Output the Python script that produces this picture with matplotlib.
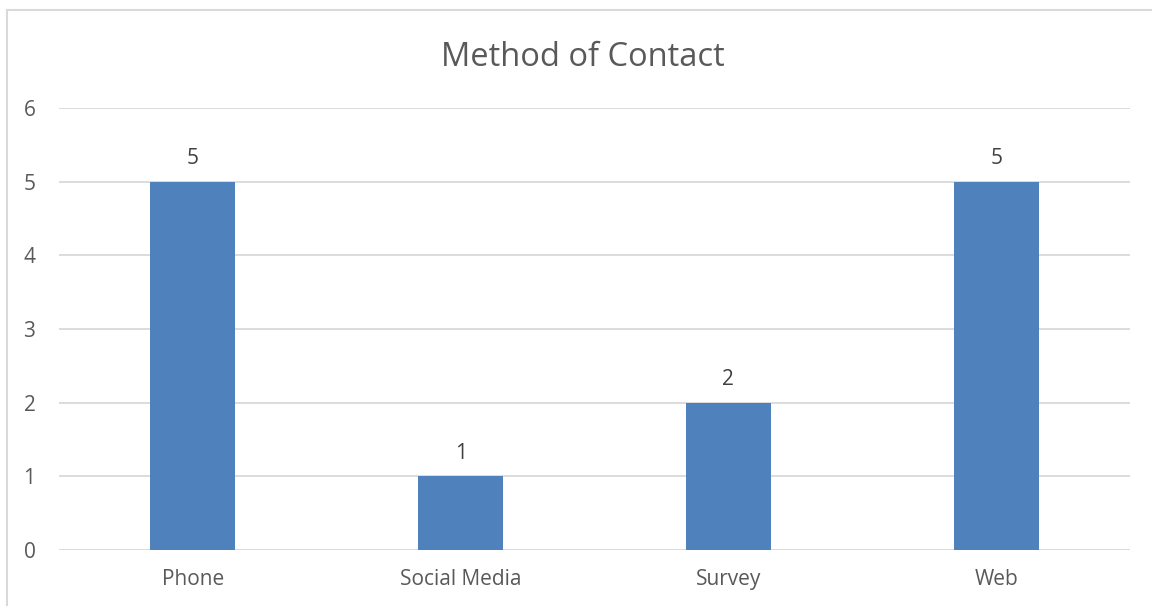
import matplotlib
matplotlib.use("Agg")
import matplotlib.pyplot as plt
from matplotlib.lines import Line2D

categories = ["Phone", "Social Media", "Survey", "Web"]
values = [5, 1, 2, 5]
yticks = [0, 1, 2, 3, 4, 5, 6]

plt.rcParams['font.family'] = ['Open Sans', 'DejaVu Sans']
W, H = 1152, 606
fig = plt.figure(figsize=(W / 100, H / 100), dpi=100)
ax = fig.add_axes([59 / W, 1 - 550 / H, (1130 - 59) / W, (550 - 108) / H])

x = list(range(len(categories)))
ax.bar(x, values, width=0.317, color="#4f81bd", zorder=3)
ax.set_xlim(-0.5, len(categories) - 0.5)
ax.set_ylim(0, 6)
ax.set_yticks(yticks)
ax.set_xticks(x)
ax.set_xticklabels(categories)
ax.grid(axis="y", color="#d9d9d9", linewidth=1.3, zorder=0)
for s in ax.spines.values():
    s.set_visible(False)
ax.tick_params(length=0, labelsize=15, labelcolor="#595959")
ax.tick_params(axis="y", pad=17)
ax.tick_params(axis="x", pad=14)

for xi, v in zip(x, values):
    ax.annotate(str(v), (xi, v), xytext=(0, 12.5), textcoords="offset points",
                ha="center", va="baseline", fontsize=15, color="#404040")

fig.text(583 / W, 1 - 66 / H, "Method of Contact", ha="center", va="baseline",
         fontsize=23.5, color="#595959")

fig.add_artist(Line2D([7 / W, 7 / W], [0, 1 - 9.5 / H], transform=fig.transFigure,
                      color="#d9d9d9", linewidth=1.5))
fig.add_artist(Line2D([7 / W, 1], [1 - 9.5 / H, 1 - 9.5 / H], transform=fig.transFigure,
                      color="#d9d9d9", linewidth=1.5))

fig.savefig("out.png", dpi=100)
